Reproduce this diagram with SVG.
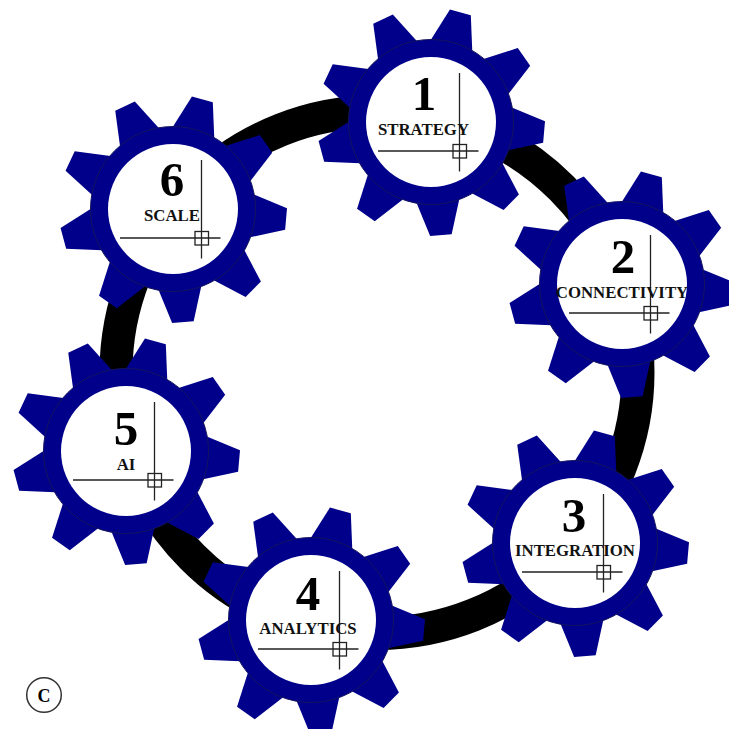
<svg xmlns="http://www.w3.org/2000/svg" xmlns:xlink="http://www.w3.org/1999/xlink" width="729" height="729" viewBox="0 0 729 729">
<style>
.gear{fill:#00008b}
.seam{fill:none;stroke:#14145e;stroke-width:1}
.face{fill:#fff}
.cross{fill:none;stroke:#222;stroke-width:1.3}
.num{font-family:"Liberation Serif",serif;font-weight:bold;font-size:49px;fill:#000;text-anchor:middle}
.lab{font-family:"Liberation Serif",serif;font-weight:bold;font-size:16.8px;fill:#111;text-anchor:middle}
.ring{fill:none;stroke:#000;stroke-width:33}
</style>
<defs>
<g id="gearShape">
<g id="t"><polygon class="gear" points="-21.5,-79.2 -10.8,-113.5 10.8,-113.5 21.5,-79.2" transform="rotate(15)"/></g>
<use xlink:href="#t" href="#t" transform="rotate(40)"/>
<use xlink:href="#t" href="#t" transform="rotate(80)"/>
<use xlink:href="#t" href="#t" transform="rotate(120)"/>
<use xlink:href="#t" href="#t" transform="rotate(160)"/>
<use xlink:href="#t" href="#t" transform="rotate(200)"/>
<use xlink:href="#t" href="#t" transform="rotate(240)"/>
<use xlink:href="#t" href="#t" transform="rotate(280)"/>
<use xlink:href="#t" href="#t" transform="rotate(320)"/>
<circle class="gear" r="82.5"/>
<circle class="seam" r="82.5"/>
<circle class="face" r="65"/>
<path class="cross" d="M-53,29 H47.5 M28.5,-49 V49.5"/>
<rect class="cross" x="22" y="22.5" width="13.5" height="13.5"/>
</g>
</defs>
<g id="connectors">
<circle class="ring" cx="377" cy="372.5" r="261"/>
</g>
<g id="node1" transform="translate(431,122)"><use xlink:href="#gearShape" href="#gearShape"/><text class="num" x="-7" y="-12">1</text><text class="lab" x="-7.5" y="13">STRATEGY</text></g>
<g id="node2" transform="translate(622,284)"><use xlink:href="#gearShape" href="#gearShape"/><text class="num" x="1" y="-11">2</text><text class="lab" x="0" y="14">CONNECTIVITY</text></g>
<g id="node3" transform="translate(575,543)"><use xlink:href="#gearShape" href="#gearShape"/><text class="num" x="-1" y="-11">3</text><text class="lab" x="0" y="13">INTEGRATION</text></g>
<g id="node4" transform="translate(311,620)"><use xlink:href="#gearShape" href="#gearShape"/><text class="num" x="-3" y="-10">4</text><text class="lab" x="-3" y="14">ANALYTICS</text></g>
<g id="node5" transform="translate(126,451)"><use xlink:href="#gearShape" href="#gearShape"/><text class="num" x="0" y="-6">5</text><text class="lab" x="0" y="19">AI</text></g>
<g id="node6" transform="translate(173,209)"><use xlink:href="#gearShape" href="#gearShape"/><text class="num" x="-1" y="-13">6</text><text class="lab" x="-1" y="12">SCALE</text></g>
<g id="badge"><circle cx="44" cy="695" r="17.3" fill="#fff" stroke="#333" stroke-width="1.5"/><text x="44" y="701.5" style="font-family:'Liberation Serif',serif;font-weight:bold;font-size:18px;text-anchor:middle">C</text></g>
</svg>
